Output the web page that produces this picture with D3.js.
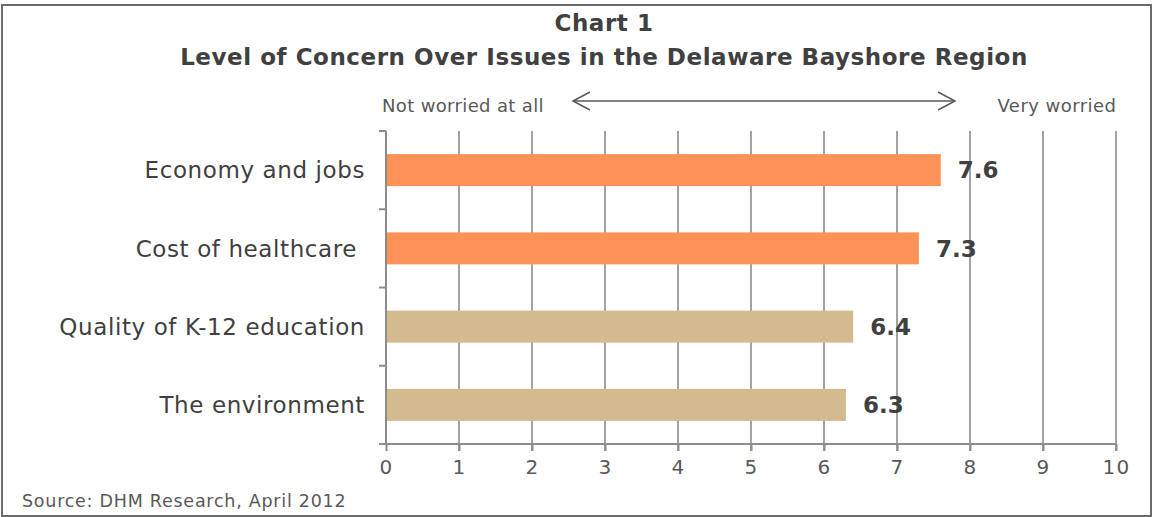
<!DOCTYPE html>
<html>
<head>
<meta charset="utf-8">
<script src="https://cdn.jsdelivr.net/npm/d3@7"></script>
<style>
  html, body { margin: 0; padding: 0; background: #fff; }
  svg { display: block; font-family: "DejaVu Sans", Verdana, sans-serif; }
</style>
</head>
<body>
<svg id="chart" width="1152" height="517"></svg>
<script>
// Issues rated on a 0-10 concern scale
const categories = ["Economy and jobs", "Cost of healthcare ", "Quality of K-12 education", "The environment"];
const values = [7.6, 7.3, 6.4, 6.3];
const barColors = ["#FF9257", "#FF9257", "#D4BB8F", "#D4BB8F"];
const tickValues = [0, 1, 2, 3, 4, 5, 6, 7, 8, 9, 10];
const titleLines = ["Chart 1", "Level of Concern Over Issues in the Delaware Bayshore Region"];
const scaleEnds = ["Not worried at all", "Very worried"];
const sourceNote = "Source: DHM Research, April 2012";

const svg = d3.select("#chart");
const plot = { left: 386, right: 1116, top: 131, bottom: 444 };

// Frame
svg.append("rect")
  .attr("x", 2).attr("y", 5).attr("width", 1149).attr("height", 511)
  .attr("fill", "#fff").attr("stroke", "#6b6b6b").attr("stroke-width", 2);

// Title
svg.selectAll("text.title").data(titleLines).join("text")
  .attr("class", "title")
  .attr("x", 604).attr("y", (d, i) => 31 + i * 34)
  .attr("text-anchor", "middle")
  .attr("font-weight", "bold").attr("font-size", 23)
  .style("letter-spacing", "0.55px")
  .attr("fill", "#404040")
  .text(d => d);

const x = d3.scaleLinear().domain([0, 10]).range([plot.left, plot.right]);
const y = d3.scaleBand().domain(categories).range([plot.top, plot.bottom]).padding(0);
const barH = 32;

// Vertical gridlines with ticks below the axis
svg.append("g").selectAll("line").data(tickValues.slice(1)).join("line")
  .attr("x1", d => x(d)).attr("x2", d => x(d))
  .attr("y1", plot.top).attr("y2", plot.bottom + 7)
  .attr("stroke", "#a3a3a3").attr("stroke-width", 2);

// Bottom axis
const xAxis = svg.append("g")
  .attr("transform", `translate(0,${plot.bottom})`)
  .call(d3.axisBottom(x).tickValues(tickValues).tickSize(7).tickPadding(9).tickFormat(d3.format("d")));
xAxis.select(".domain").attr("stroke", "#8c8c8c").attr("stroke-width", 2)
  .attr("d", `M${plot.left},0H${plot.right}`);
xAxis.selectAll(".tick line").attr("stroke", "#8c8c8c").attr("stroke-width", 2);
xAxis.selectAll(".tick text")
  .attr("font-family", "DejaVu Sans, Verdana, sans-serif")
  .attr("font-size", 20).attr("fill", "#595959")
  .style("letter-spacing", "1.2px");

// Left axis with category boundary ticks
svg.append("line")
  .attr("x1", plot.left).attr("x2", plot.left)
  .attr("y1", plot.top).attr("y2", plot.bottom)
  .attr("stroke", "#8c8c8c").attr("stroke-width", 2);
const bounds = categories.map(c => y(c)).concat([plot.bottom]);
svg.append("g").selectAll("line").data(bounds).join("line")
  .attr("x1", plot.left - 7).attr("x2", plot.left)
  .attr("y1", d => d).attr("y2", d => d)
  .attr("stroke", "#8c8c8c").attr("stroke-width", 2);

// Bars
svg.append("g").selectAll("rect").data(values).join("rect")
  .attr("x", x(0) + 1)
  .attr("y", (d, i) => y(categories[i]) + (y.bandwidth() - barH) / 2)
  .attr("width", d => x(d) - x(0) - 1)
  .attr("height", barH)
  .attr("fill", (d, i) => barColors[i]);

// Value labels
svg.append("g").selectAll("text").data(values).join("text")
  .attr("x", d => x(d) + 17)
  .attr("y", (d, i) => y(categories[i]) + y.bandwidth() / 2)
  .attr("dy", "0.36em")
  .attr("font-weight", "bold").attr("font-size", 23)
  .attr("fill", "#404040")
  .text(d => d.toFixed(1));

// Category labels
svg.append("g").selectAll("text").data(categories).join("text")
  .attr("x", 365)
  .attr("y", d => y(d) + y.bandwidth() / 2)
  .attr("dy", "0.36em")
  .attr("text-anchor", "end")
  .attr("font-size", 23)
  .attr("fill", "#404040")
  .style("letter-spacing", "0.6px")
  .style("white-space", "pre")
  .text(d => d);

// Scale-end annotations with double-headed arrow
svg.append("text")
  .attr("x", 382).attr("y", 112)
  .attr("font-size", 18).attr("fill", "#595959")
  .style("letter-spacing", "0.35px")
  .text(scaleEnds[0]);
svg.append("text")
  .attr("x", x(10) + 0.4).attr("y", 112)
  .attr("text-anchor", "end")
  .attr("font-size", 18).attr("fill", "#595959")
  .style("letter-spacing", "0.45px")
  .text(scaleEnds[1]);
const ay = 101, ax1 = 573, ax2 = 955;
const arrow = svg.append("g").attr("stroke", "#595959").attr("stroke-width", 1.5).attr("fill", "none");
arrow.append("line").attr("x1", ax1).attr("x2", ax2).attr("y1", ay).attr("y2", ay);
arrow.append("path").attr("d", `M${ax1 + 17},${ay - 9}L${ax1},${ay}L${ax1 + 17},${ay + 9}`);
arrow.append("path").attr("d", `M${ax2 - 17},${ay - 9}L${ax2},${ay}L${ax2 - 17},${ay + 9}`);

// Source note
svg.append("text")
  .attr("x", 22).attr("y", 507)
  .attr("font-size", 17.5).attr("fill", "#595959")
  .style("letter-spacing", "0.75px")
  .text(sourceNote);
</script>
</body>
</html>
